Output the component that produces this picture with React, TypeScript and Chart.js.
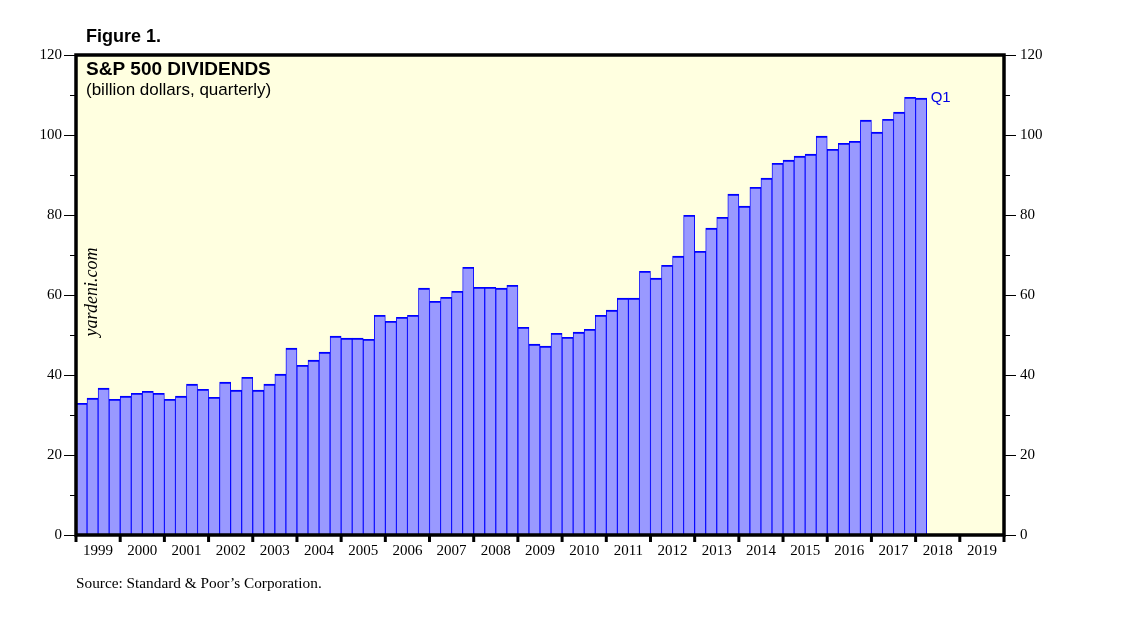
import React, { useEffect, useRef } from "react";
import { Chart, registerables } from "chart.js";

Chart.register(...registerables);

const years = [
  "1999", "2000", "2001", "2002", "2003", "2004", "2005", "2006", "2007", "2008",
  "2009", "2010", "2011", "2012", "2013", "2014", "2015", "2016", "2017", "2018", "2019",
];
const quarters = ["Q1", "Q2", "Q3", "Q4"];
const quarterLabels = years.flatMap((y) => quarters.map((q) => `${y} ${q}`));

// S&P 500 dividends, billion dollars, quarterly (1999 Q1 .. 2018 Q1)
const dividends = [
  32.9, 34.2, 36.7, 33.9,
  34.7, 35.4, 35.9, 35.4,
  33.9, 34.7, 37.7, 36.4,
  34.4, 38.2, 36.2, 39.4,
  36.2, 37.7, 40.2, 46.7,
  42.4, 43.7, 45.7, 49.7,
  49.2, 49.2, 48.9, 54.9,
  53.4, 54.4, 54.9, 61.7,
  58.4, 59.4, 60.9, 66.9,
  61.9, 61.9, 61.7, 62.4,
  51.9, 47.7, 47.2, 50.4,
  49.4, 50.7, 51.4, 54.9,
  56.2, 59.2, 59.2, 65.9,
  64.2, 67.4, 69.7, 79.9,
  70.9, 76.7, 79.4, 85.2,
  82.2, 86.9, 89.2, 92.9,
  93.7, 94.7, 95.2, 99.7,
  96.4, 97.9, 98.4, 103.7,
  100.7, 103.9, 105.7, 109.4,
  109.2,
];

const yMin = 0;
const yMax = 120;
const yMajorStep = 20;
const yMinorStep = 10;

const figureLabel = "Figure 1.";
const titleText = "S&P 500 DIVIDENDS";
const subtitleText = "(billion dollars, quarterly)";
const watermarkText = "yardeni.com";
const lastLabel = "Q1";
const sourceText = "Source: Standard & Poor\u2019s Corporation.";

const SERIF = "'Liberation Serif', 'Times New Roman', serif";
const SANS = "'Liberation Sans', Arial, sans-serif";

const decorPlugin = {
  id: "decor",
  beforeDraw(chart: any) {
    const { ctx, chartArea: a } = chart;
    ctx.save();
    ctx.fillStyle = "#ffffff";
    ctx.fillRect(0, 0, chart.width, chart.height);
    ctx.fillStyle = "#ffffe0";
    ctx.fillRect(a.left, a.top, a.right - a.left, a.bottom - a.top);
    ctx.restore();
  },
  afterDraw(chart: any) {
    const { ctx, chartArea: a } = chart;
    const yScale = chart.scales.y;
    const xScale = chart.scales.x;
    ctx.save();

    // plot border
    ctx.strokeStyle = "#000000";
    ctx.lineWidth = 3.5;
    ctx.strokeRect(a.left, a.top, a.right - a.left, a.bottom - a.top);

    // y tick marks (left & right)
    ctx.lineWidth = 1.2;
    for (let v = yMin; v <= yMax; v += yMinorStep) {
      const py = Math.round(yScale.getPixelForValue(v)) + 0.5;
      const len = v % yMajorStep === 0 ? 12 : 6;
      ctx.beginPath();
      ctx.moveTo(a.left - len, py);
      ctx.lineTo(a.left, py);
      ctx.moveTo(a.right, py);
      ctx.lineTo(a.right + len, py);
      ctx.stroke();
    }

    // year boundary ticks
    ctx.lineWidth = 3;
    const slot = (a.right - a.left) / quarterLabels.length;
    for (let i = 0; i <= years.length; i++) {
      const px = i < years.length ? xScale.getPixelForValue(i * 4) - slot / 2 : a.right;
      ctx.beginPath();
      ctx.moveTo(px, a.bottom);
      ctx.lineTo(px, a.bottom + 7);
      ctx.stroke();
    }

    // texts
    ctx.fillStyle = "#000000";
    ctx.textAlign = "left";
    ctx.textBaseline = "alphabetic";
    ctx.font = `bold 18px ${SANS}`;
    ctx.fillText(figureLabel, 86, 42);
    ctx.font = `bold 19px ${SANS}`;
    ctx.fillText(titleText, 86, 75);
    ctx.font = `17px ${SANS}`;
    ctx.fillText(subtitleText, 86, 95);

    ctx.font = `15.3px ${SERIF}`;
    ctx.fillText(sourceText, 76, 588);

    // watermark
    ctx.save();
    ctx.translate(97, 292);
    ctx.rotate(-Math.PI / 2);
    ctx.font = `italic 18px ${SERIF}`;
    ctx.textAlign = "center";
    ctx.textBaseline = "alphabetic";
    ctx.fillText(watermarkText, 0, 0);
    ctx.restore();

    // last-quarter label
    const meta = chart.getDatasetMeta(0);
    const lastBar = meta.data[meta.data.length - 1];
    if (lastBar) {
      const props = lastBar.getProps(["x", "y", "width"], true);
      ctx.fillStyle = "#0000e6";
      ctx.font = `15px ${SANS}`;
      ctx.textAlign = "left";
      ctx.textBaseline = "middle";
      ctx.fillText(lastLabel, props.x + props.width / 2 + 4, props.y);
    }
    ctx.restore();
  },
};

export default function App() {
  const canvasRef = useRef<HTMLCanvasElement | null>(null);

  useEffect(() => {
    const canvas = canvasRef.current;
    if (!canvas) return;
    const tickFont = { family: SERIF, size: 15 };
    const chart = new Chart(canvas, {
      type: "bar",
      data: {
        labels: quarterLabels,
        datasets: [
          {
            data: dividends,
            xAxisID: "x",
            yAxisID: "y",
            backgroundColor: "#9999ff",
            borderColor: "#0000ff",
            borderWidth: { top: 1.8, left: 0.9, right: 0.9, bottom: 0 } as any,
            barPercentage: 1,
            categoryPercentage: 1,
          },
        ],
      },
      options: {
        responsive: false,
        animation: false,
        devicePixelRatio: 1,
        layout: { padding: { top: 55, left: 0, right: 0, bottom: 0 } },
        plugins: {
          legend: { display: false },
          tooltip: { enabled: false },
          title: { display: false },
        },
        scales: {
          x: {
            type: "category",
            labels: quarterLabels,
            display: false,
            offset: true,
            grid: { display: false },
          },
          x2: {
            type: "category",
            labels: years,
            position: "bottom",
            offset: true,
            grid: { display: false, drawTicks: false },
            border: { display: false },
            ticks: {
              font: tickFont,
              color: "#000000",
              padding: 7,
              maxRotation: 0,
              minRotation: 0,
              autoSkip: false,
            },
            afterFit: (s: any) => {
              s.height = 86;
            },
          },
          y: {
            position: "left",
            min: yMin,
            max: yMax,
            grid: { display: false, drawTicks: false },
            border: { display: false },
            ticks: { stepSize: yMajorStep, font: tickFont, color: "#000000", padding: 14 },
            afterFit: (s: any) => {
              s.width = 76;
            },
          },
          y2: {
            position: "right",
            min: yMin,
            max: yMax,
            grid: { display: false, drawTicks: false },
            border: { display: false },
            ticks: { stepSize: yMajorStep, font: tickFont, color: "#000000", padding: 16 },
            afterFit: (s: any) => {
              s.width = 134;
            },
          },
        },
      } as any,
      plugins: [decorPlugin],
    });
    return () => chart.destroy();
  }, []);

  return (
    <div style={{ position: "absolute", left: 0, top: 0, width: 1138, height: 621, background: "#fff" }}>
      <canvas ref={canvasRef} width={1138} height={621} style={{ width: 1138, height: 621, display: "block" }} />
    </div>
  );
}
